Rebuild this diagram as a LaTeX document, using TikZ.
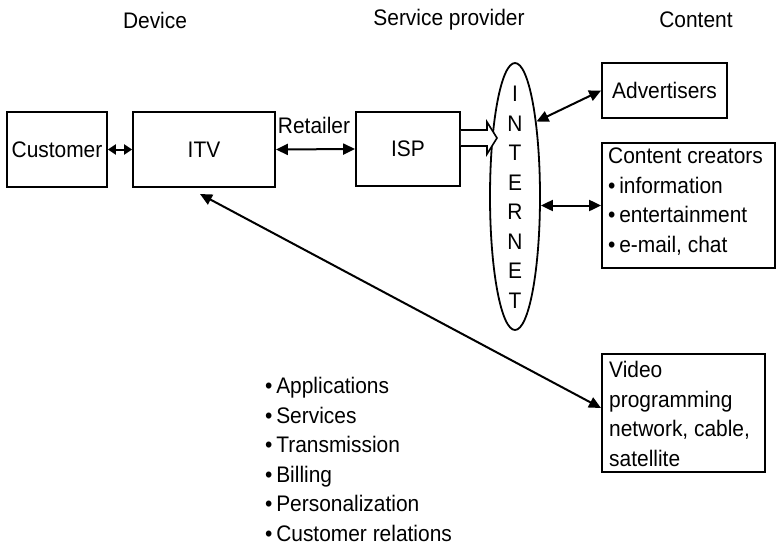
\documentclass[tikz,border=0pt]{standalone}
\usepackage{fontspec}
\setmainfont{Liberation Sans}[FakeStretch=0.93]
\usetikzlibrary{arrows.meta,shapes.geometric}
\begin{document}
\begin{tikzpicture}[x=1pt,y=-1pt,
  every node/.style={font=\fontsize{22.5}{29.5}\selectfont},
  box/.style={draw,line width=1.8pt,inner sep=0pt},
  txt/.style={inner sep=0pt,align=left,anchor=north west},
  link/.style={line width=2pt,{Triangle[length=12pt,width=11pt]}-{Triangle[length=12pt,width=11pt]}},
  shortlink/.style={line width=2pt,{Triangle[length=8pt,width=10pt]}-{Triangle[length=8pt,width=10pt]}}]
\useasboundingbox (0,0) rectangle (776,547);

% column headings
\node (hdev) at (155,20) {Device};
\node (hsp)  at (449,20) {Service provider};
\node (hcon) at (696,20) {Content};

% device / provider chain
\node[box,minimum width=100pt,minimum height=75pt] (cust) at (57,149.5) {Customer};
\node[box,minimum width=142pt,minimum height=75pt] (itv) at (204,149.5) {ITV};
\node[box,minimum width=104pt,minimum height=74pt] (isp) at (408,149) {ISP};
\node[inner sep=0pt,anchor=base] (ret) at (314,133) {Retailer};

% the internet
\node[draw,ellipse,line width=1.8pt,inner sep=0pt,minimum width=50pt,minimum height=267pt] (inet) at (515,196.5) {};
\node[inner sep=0pt,align=center,anchor=north] (inetlbl) at (515,86) {I\\N\\T\\E\\R\\N\\E\\T};

% content side
\node[box,minimum width=125pt,minimum height=55pt] (adv) at (664.5,90.5) {Advertisers};
\node[box,minimum width=173pt,minimum height=125pt] (cc) at (688.5,205.5) {};
\node[txt] (cctext) at (608,148) {Content creators\\\textbullet\,information\\\textbullet\,entertainment\\\textbullet\,e-mail, chat};
\node[box,minimum width=163pt,minimum height=118pt] (vid) at (683.5,413) {};
\node[txt] (vidtext) at (609,361) {Video\\programming\\network, cable,\\satellite};

% operator functions
\node[txt] (funcs) at (265,377) {\textbullet\,Applications\\\textbullet\,Services\\\textbullet\,Transmission\\\textbullet\,Billing\\\textbullet\,Personalization\\\textbullet\,Customer relations};

% connectors
\draw[shortlink] (cust.east) -- (itv.west);
\draw[link] (itv.east) -- (isp.west);
\draw[link] (inet.74) -- (adv.west);
\draw[link] (cc.west -| inet.east) -- (cc.west);
\coordinate (itvend) at (200,194);
\coordinate (vidend) at (601,408);
\draw[link] (itvend) -- (vidend);

% hollow arrow from the ISP into the internet
\draw[line width=1.6pt,fill=white,line join=miter]
  (isp.east |- 0,130) -- (487,130) -- (487,122) -- (497,138) -- (487,154) -- (487,146) -- (isp.east |- 0,146);
\end{tikzpicture}
\end{document}
